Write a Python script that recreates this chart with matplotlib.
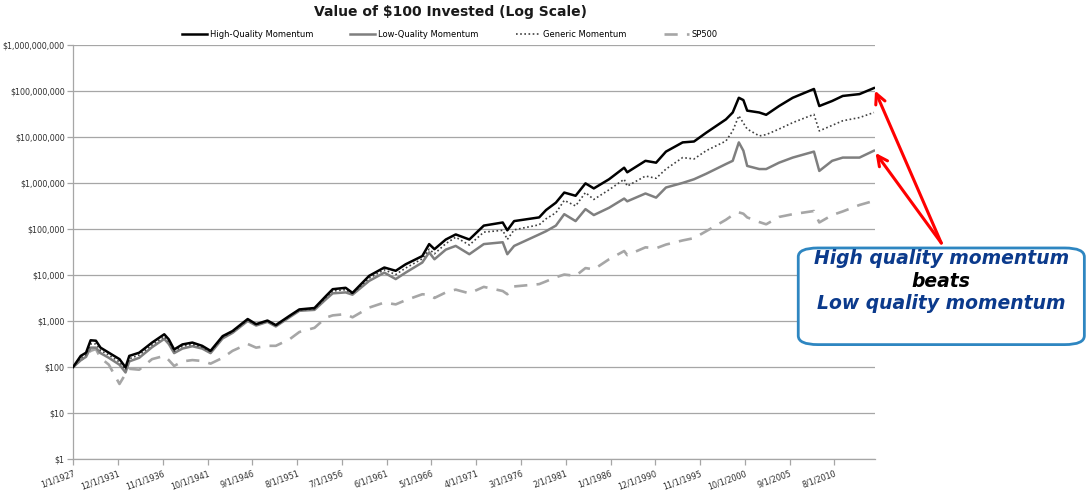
import pandas as pd
import matplotlib.pyplot as plt
from matplotlib.patches import FancyBboxPatch
from matplotlib.ticker import FixedLocator, NullLocator

# ── DATA ──────────────────────────────────────────────────
dates = ["1927-01", "1927-11", "1928-06", "1928-12", "1929-07", "1930-01", "1930-12",
         "1932-02", "1932-10", "1933-03", "1934-04", "1935-09", "1937-01", "1937-07",
         "1938-02", "1939-01", "1940-02", "1941-03", "1942-02", "1943-06", "1944-07",
         "1946-03", "1947-02", "1948-05", "1949-04", "1950-10", "1951-11", "1953-07",
         "1954-10", "1955-07", "1956-12", "1957-09", "1959-07", "1961-03", "1962-06",
         "1963-07", "1965-05", "1966-02", "1966-09", "1967-12", "1969-01", "1970-07",
         "1972-02", "1974-03", "1974-09", "1975-06", "1978-03", "1978-12", "1980-01",
         "1980-12", "1982-03", "1983-04", "1984-03", "1985-11", "1987-07", "1987-11",
         "1989-11", "1991-01", "1992-02", "1993-12", "1995-03", "1996-07", "1998-09",
         "1999-06", "2000-02", "2000-08", "2001-01", "2002-05", "2003-02", "2004-07",
         "2006-01", "2008-05", "2008-12", "2010-05", "2011-07", "2013-05", "2014-12"]

high_quality = [1.00e2, 1.74e2, 2.04e2, 3.80e2, 3.72e2, 2.63e2, 2.04e2,
                1.48e2, 9.8e1, 1.74e2, 2.04e2, 3.39e2, 5.13e2, 3.98e2,
                2.40e2, 3.09e2, 3.39e2, 2.88e2, 2.24e2, 4.68e2, 6.03e2,
                1.10e3, 8.51e2, 1.02e3, 8.13e2, 1.29e3, 1.78e3, 1.91e3,
                3.47e3, 4.90e3, 5.25e3, 4.07e3, 9.55e3, 1.45e4, 1.23e4,
                1.70e4, 2.57e4, 4.68e4, 3.63e4, 5.89e4, 7.59e4, 5.89e4,
                1.18e5, 1.38e5, 9.33e4, 1.48e5, 1.78e5, 2.57e5, 3.72e5,
                6.17e5, 5.25e5, 9.77e5, 7.59e5, 1.20e6, 2.14e6, 1.70e6,
                3.02e6, 2.75e6, 4.79e6, 7.59e6, 7.94e6, 1.23e7, 2.40e7,
                3.39e7, 7.08e7, 6.31e7, 3.72e7, 3.39e7, 3.02e7, 4.68e7,
                7.08e7, 1.10e8, 4.68e7, 6.03e7, 7.76e7, 8.51e7, 1.15e8]

low_quality = [1.00e2, 1.41e2, 1.66e2, 2.63e2, 2.63e2, 2.00e2, 1.58e2,
               1.12e2, 7.59e1, 1.32e2, 1.58e2, 2.69e2, 4.07e2, 3.16e2,
               2.00e2, 2.51e2, 2.82e2, 2.51e2, 2.00e2, 4.17e2, 5.50e2,
               1.00e3, 7.94e2, 9.55e2, 7.59e2, 1.20e3, 1.66e3, 1.74e3,
               2.95e3, 3.98e3, 4.17e3, 3.72e3, 7.41e3, 1.12e4, 8.13e3,
               1.12e4, 1.86e4, 3.09e4, 2.19e4, 3.55e4, 4.27e4, 2.82e4,
               4.68e4, 5.13e4, 2.82e4, 4.27e4, 7.59e4, 8.91e4, 1.18e5,
               2.09e5, 1.48e5, 2.69e5, 2.00e5, 2.88e5, 4.57e5, 3.98e5,
               5.89e5, 4.79e5, 7.94e5, 1.00e6, 1.20e6, 1.58e6, 2.57e6,
               3.02e6, 7.59e6, 5.01e6, 2.34e6, 2.00e6, 2.00e6, 2.75e6,
               3.55e6, 4.79e6, 1.82e6, 3.02e6, 3.55e6, 3.55e6, 5.01e6]

generic = [1.00e2, 1.58e2, 1.86e2, 3.16e2, 3.16e2, 2.29e2, 1.82e2,
           1.29e2, 8.71e1, 1.51e2, 1.82e2, 3.02e2, 4.57e2, 3.55e2,
           2.19e2, 2.82e2, 3.09e2, 2.69e2, 2.14e2, 4.47e2, 5.75e2,
           1.05e3, 8.32e2, 1.00e3, 7.94e2, 1.26e3, 1.74e3, 1.82e3,
           3.24e3, 4.47e3, 4.79e3, 3.89e3, 8.51e3, 1.29e4, 1.02e4,
           1.41e4, 2.24e4, 3.63e4, 2.88e4, 4.79e4, 6.61e4, 4.47e4,
           8.51e4, 9.33e4, 5.89e4, 9.55e4, 1.23e5, 1.66e5, 2.24e5,
           4.17e5, 3.16e5, 6.17e5, 4.37e5, 7.08e5, 1.20e6, 8.51e5,
           1.41e6, 1.26e6, 2.00e6, 3.55e6, 3.31e6, 5.01e6, 8.13e6,
           1.35e7, 2.88e7, 2.00e7, 1.48e7, 1.05e7, 1.12e7, 1.48e7,
           2.04e7, 3.09e7, 1.35e7, 1.78e7, 2.24e7, 2.63e7, 3.39e7]

sp500 = [1.00e2, 1.41e2, 1.66e2, 2.24e2, 2.45e2, 1.58e2, 1.12e2,
         4.27e1, 7.08e1, 9.12e1, 8.71e1, 1.48e2, 1.74e2, 1.41e2,
         1.05e2, 1.32e2, 1.41e2, 1.35e2, 1.18e2, 1.58e2, 2.24e2,
         3.16e2, 2.63e2, 2.88e2, 2.88e2, 3.98e2, 5.75e2, 7.08e2,
         1.18e3, 1.32e3, 1.41e3, 1.20e3, 1.95e3, 2.51e3, 2.29e3,
         2.82e3, 3.80e3, 3.72e3, 3.16e3, 4.17e3, 4.79e3, 3.98e3,
         5.50e3, 4.47e3, 3.80e3, 5.62e3, 6.31e3, 7.24e3, 8.91e3,
         1.02e4, 9.55e3, 1.41e4, 1.32e4, 2.19e4, 3.31e4, 2.69e4,
         3.98e4, 3.80e4, 4.57e4, 5.62e4, 6.31e4, 8.91e4, 1.58e5,
         2.00e5, 2.29e5, 2.14e5, 1.78e5, 1.41e5, 1.26e5, 1.82e5,
         2.09e5, 2.45e5, 1.38e5, 2.00e5, 2.40e5, 3.31e5, 4.07e5]

y_ticks = [1, 10, 100, 1e3, 1e4, 1e5, 1e6, 1e7, 1e8, 1e9]
x_ticks = pd.date_range("1927-01-01", periods=18, freq="59MS")

# ── PLOT ──────────────────────────────────────────────────
x = pd.to_datetime(dates)

fig = plt.figure(figsize=(10.92, 4.93), dpi=100)
ax = fig.add_axes([0.067, 0.069, 0.734, 0.840])

ax.plot(x, sp500, color="#a6a6a6", lw=1.9, dashes=(5, 3.5), label="SP500", zorder=2)
ax.plot(x, low_quality, color="#7f7f7f", lw=1.8, label="Low-Quality Momentum", zorder=3)
ax.plot(x, generic, color="#404040", lw=1.2, ls=(0, (1, 1.5)), label="Generic Momentum", zorder=4)
ax.plot(x, high_quality, color="black", lw=1.8, label="High-Quality Momentum", zorder=5)

ax.set_yscale("log")
ax.set_ylim(1, 1e9)
ax.yaxis.set_major_locator(FixedLocator(y_ticks))
ax.yaxis.set_minor_locator(NullLocator())
ax.set_yticklabels([f"\\${v:,.0f}" for v in y_ticks])
ax.grid(axis="y", color="#a6a6a6", lw=0.9)
ax.set_axisbelow(True)

ax.set_xlim(pd.Timestamp("1927-01-01"), pd.Timestamp("2015-01-01"))
ax.set_xticks(x_ticks)
ax.set_xticklabels([f"{d.month}/{d.day}/{d.year}" for d in x_ticks],
                   rotation=20, ha="right", rotation_mode="anchor")

ax.tick_params(axis="both", labelsize=5.8, labelcolor="#303030",
               color="#a6a6a6", length=4, width=0.9)
ax.tick_params(axis="y", pad=2)
ax.tick_params(axis="x", pad=3)
for side in ["top", "right"]:
    ax.spines[side].set_visible(False)
for side in ["left", "bottom"]:
    ax.spines[side].set_color("#a6a6a6")
    ax.spines[side].set_linewidth(0.9)

fig.text(0.413, 0.975, "Value of \\$100 Invested (Log Scale)", ha="center", va="center",
         fontsize=10, fontweight="bold", color="#1a1a1a")

handles, labels = ax.get_legend_handles_labels()
order = [3, 1, 2, 0]
fig.legend([handles[i] for i in order], [labels[i] for i in order],
           loc="center", bbox_to_anchor=(0.412, 0.930), ncol=4, frameon=False,
           fontsize=6, handlelength=3.0, columnspacing=4.5, handletextpad=0.3)

# ── ANNOTATION ────────────────────────────────────────────
fig.patches.append(FancyBboxPatch(
    (0.731, 0.301), 0.262, 0.196, boxstyle="round,pad=0,rounding_size=0.018",
    transform=fig.transFigure, fc="white", ec="#2e86c1", lw=2.0, zorder=10))
txt_kw = dict(ha="center", va="center", fontsize=13.5, fontweight="bold",
              style="italic", family="DejaVu Sans", zorder=11)
fig.text(0.862, 0.475, "High quality momentum", color="#0b3a8c", **txt_kw)
fig.text(0.862, 0.430, "beats", color="black", **txt_kw)
fig.text(0.862, 0.385, "Low quality momentum", color="#0b3a8c", **txt_kw)

for target in [high_quality[-1], low_quality[-1]]:
    ax.annotate("", xy=(x[-1], target), xycoords="data",
                xytext=(0.862, 0.507), textcoords="figure fraction",
                arrowprops=dict(arrowstyle="->", color="red", lw=2.2,
                                mutation_scale=18, shrinkA=0, shrinkB=2),
                annotation_clip=False)

plt.savefig("out.png", dpi=100)
